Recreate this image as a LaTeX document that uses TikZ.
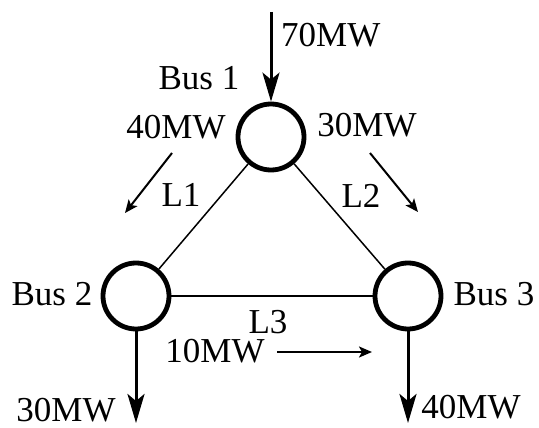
\documentclass[tikz,border=0pt]{standalone}
\usepackage{fontspec}
\setmainfont{Liberation Serif}
\usetikzlibrary{arrows.meta}
\begin{document}
\begin{tikzpicture}[x=1pt,y=-1pt,
  bus/.style={circle,draw,line width=4.8pt,minimum size=66pt,inner sep=0pt},
  lbl/.style={inner sep=0pt,font=\fontsize{35}{40}\selectfont},
  line/.style={line width=1.5pt},
  bigarrow/.style={line width=3pt,-{Stealth[length=29pt,width=17pt,inset=7pt]}},
  smallarrow/.style={line width=2pt,-{Stealth[length=13pt,width=11pt,inset=3pt]}}]
\useasboundingbox (0,0) rectangle (539,428);
\node[bus] (b1) at (271,137) {};
\node[bus] (b2) at (136,296) {};
\node[bus] (b3) at (408,296) {};
\draw[line] (b1) -- (b2);
\draw[line] (b1) -- (b3);
\draw[line] (b2) -- (b3);
\coordinate (in1) at (271,12);
\coordinate (out2) at (136,423);
\coordinate (out3) at (408,423);
\draw[bigarrow] (in1) -- (b1.north);
\draw[bigarrow] (b2.south) -- (out2);
\draw[bigarrow] (b3.south) -- (out3);
\coordinate (a1s) at (172,153); \coordinate (a1e) at (125,213);
\coordinate (a2s) at (370,153); \coordinate (a2e) at (418,212);
\coordinate (a3s) at (277,352); \coordinate (a3e) at (372,352);
\draw[smallarrow] (a1s) -- (a1e);
\draw[smallarrow] (a2s) -- (a2e);
\draw[smallarrow] (a3s) -- (a3e);
\node[lbl,anchor=west] (t70) at (281,35) {70MW};
\node[lbl] (tb1) at (199,78) {Bus 1};
\node[lbl] (t40a) at (176,127) {40MW};
\node[lbl] (t30a) at (367,125) {30MW};
\node[lbl] (tl1) at (181,195) {L1};
\node[lbl] (tl2) at (361,196) {L2};
\node[lbl] (tb2) at (52,294) {Bus 2};
\node[lbl] (tb3) at (494,294) {Bus 3};
\node[lbl] (tl3) at (268,322) {L3};
\node[lbl] (t10) at (215,351) {10MW};
\node[lbl] (t30b) at (66,410) {30MW};
\node[lbl] (t40b) at (471,407) {40MW};
\end{tikzpicture}
\end{document}
